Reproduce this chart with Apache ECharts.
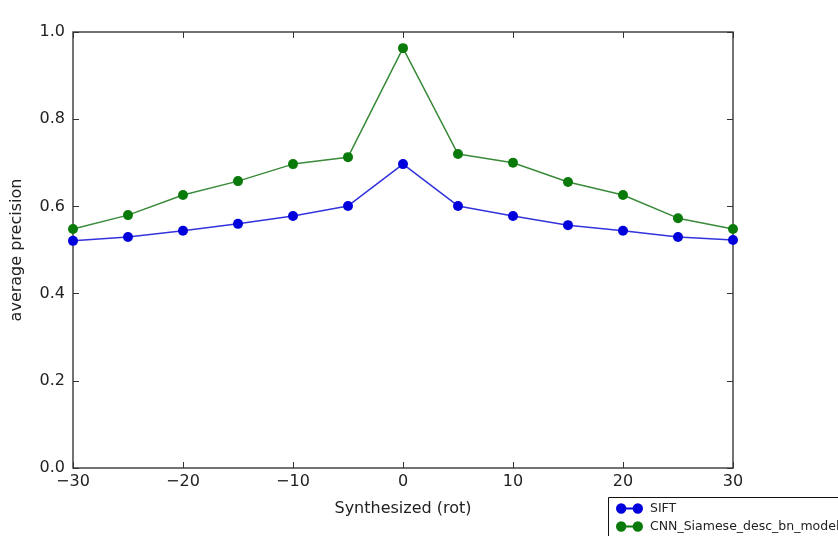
<!DOCTYPE html>
<html>
<head>
<meta charset="utf-8">
<script src="https://cdn.jsdelivr.net/npm/echarts@6/dist/echarts.min.js"></script>
<style>
  html, body { margin: 0; padding: 0; background: #fff; }
  #chart { width: 838px; height: 536px; }
</style>
</head>
<body>
<div id="chart"></div>
<script>
// rotation angles (x axis)
const angles = [-30, -25, -20, -15, -10, -5, 0, 5, 10, 15, 20, 25, 30]
// average precision per angle
const sift = [0.521, 0.530, 0.544, 0.560, 0.578, 0.601, 0.697, 0.601, 0.578, 0.557, 0.544, 0.530, 0.523]
const cnn = [0.548, 0.580, 0.626, 0.658, 0.697, 0.713, 0.963, 0.720, 0.700, 0.656, 0.626, 0.573, 0.548]

const font = 'DejaVu Sans'
const minus = v => String(v).replace('-', '\u2212')
// legend icon: line with two dots
const icon = 'path://M5,0 A5,5 0 1,1 5,10 A5,5 0 1,1 5,0 Z M21,0 A5,5 0 1,1 21,10 A5,5 0 1,1 21,0 Z M5,4 L21,4 L21,6 L5,6 Z'

const pairs = vals => angles.map((a, i) => [a, vals[i]])

const tick = { inside: true, length: 6, lineStyle: { color: '#333' } }
const legendItem = (name, top) => ({
  left: 611, top: top, itemGap: 0,
  itemWidth: 27, itemHeight: 11,
  textStyle: { fontFamily: font, fontSize: 12.5, color: '#222', padding: [0, 0, 0, 2] },
  data: [{ name: name, icon: icon }]
})

const chart = echarts.init(document.getElementById('chart'))
chart.setOption({
  animation: false,
  grid: {
    left: 73, right: 105, top: 32, bottom: 68,
    show: true, borderColor: '#444', borderWidth: 1.5, backgroundColor: '#fff'
  },
  xAxis: [
    {
      type: 'value', min: -30, max: 30, interval: 10,
      name: 'Synthesized (rot)', nameLocation: 'middle', nameGap: 33,
      nameTextStyle: { fontFamily: font, fontSize: 16, color: '#222' },
      axisLine: { show: false, onZero: false },
      axisTick: tick,
      axisLabel: { fontFamily: font, fontSize: 16, color: '#222', margin: 6, formatter: minus },
      splitLine: { show: false }
    },
    {
      type: 'value', min: -30, max: 30, interval: 10, position: 'top',
      axisLine: { show: false, onZero: false },
      axisTick: tick,
      axisLabel: { show: false },
      splitLine: { show: false }
    }
  ],
  yAxis: [
    {
      type: 'value', min: 0, max: 1, interval: 0.2,
      name: 'average precision', nameLocation: 'middle', nameGap: 48,
      nameTextStyle: { fontFamily: font, fontSize: 16, color: '#222' },
      axisLine: { show: false, onZero: false },
      axisTick: tick,
      axisLabel: { fontFamily: font, fontSize: 16, color: '#222', margin: 8, formatter: v => v.toFixed(1) },
      splitLine: { show: false }
    },
    {
      type: 'value', min: 0, max: 1, interval: 0.2, position: 'right',
      axisLine: { show: false, onZero: false },
      axisTick: tick,
      axisLabel: { show: false },
      splitLine: { show: false }
    }
  ],
  legend: [
    legendItem('SIFT', 497),
    legendItem('CNN_Siamese_desc_bn_model', 515)
  ],
  graphic: [
    {
      type: 'rect', left: 608, top: 497, z: 0,
      shape: { width: 250, height: 50 },
      style: { fill: '#fff', stroke: '#111', lineWidth: 1 }
    }
  ],
  series: [
    {
      name: 'SIFT', type: 'line', data: pairs(sift),
      color: '#0000dd', symbol: 'circle', symbolSize: 10,
      lineStyle: { width: 1.5, color: '#3333dd' }, itemStyle: { color: '#0000dd' }
    },
    {
      name: 'CNN_Siamese_desc_bn_model', type: 'line', data: pairs(cnn),
      color: '#0a7a0a', symbol: 'circle', symbolSize: 10,
      lineStyle: { width: 1.5, color: '#3a8a3a' }, itemStyle: { color: '#0a7a0a' }
    }
  ]
})
</script>
</body>
</html>
